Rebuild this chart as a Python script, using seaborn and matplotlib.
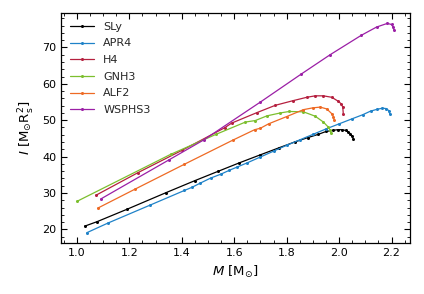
import matplotlib
matplotlib.use("Agg")
import matplotlib.pyplot as plt
from matplotlib.ticker import MultipleLocator
import seaborn as sns
import pandas as pd

sly_m = [1.03, 1.076, 1.19, 1.34, 1.45, 1.54, 1.62, 1.70, 1.77, 1.83, 1.88, 1.92, 1.95, 1.975, 1.995, 2.01, 2.025, 2.035, 2.043, 2.05, 2.054]
sly_i = [20.9, 22.1, 25.5, 30.1, 33.4, 36.0, 38.3, 40.5, 42.4, 44.0, 45.2, 46.1, 46.9, 47.2, 47.4, 47.4, 47.2, 46.8, 46.3, 45.6, 44.9]

apr4_m = [1.038, 1.117, 1.28, 1.41, 1.44, 1.47, 1.51, 1.55, 1.58, 1.61, 1.65, 1.70, 1.75, 1.80, 1.85, 1.90, 1.95, 2.00, 2.05, 2.09, 2.12, 2.145, 2.165, 2.18, 2.19, 2.193]
apr4_i = [19.1, 21.7, 26.7, 30.7, 31.6, 32.7, 34.1, 35.2, 36.2, 37.1, 38.3, 39.9, 41.5, 43.1, 44.6, 46.1, 47.6, 49.0, 50.4, 51.5, 52.5, 53.0, 53.3, 53.2, 52.6, 51.8]

h4_m = [1.073, 1.233, 1.40, 1.563, 1.59, 1.687, 1.757, 1.826, 1.877, 1.909, 1.94, 1.972, 1.997, 2.008, 2.014, 2.016]
h4_i = [29.4, 35.6, 41.7, 47.9, 49.2, 52.1, 54.1, 55.4, 56.3, 56.7, 56.7, 56.3, 55.2, 54.5, 53.6, 51.8]

gnh3_m = [1.0, 1.357, 1.53, 1.643, 1.68, 1.725, 1.776, 1.81, 1.864, 1.909, 1.94, 1.959, 1.966, 1.968]
gnh3_i = [27.7, 40.6, 46.1, 49.5, 49.9, 51.2, 52.0, 52.4, 52.3, 51.1, 49.5, 48.1, 47.3, 46.5]

alf2_m = [1.081, 1.22, 1.41, 1.594, 1.678, 1.70, 1.731, 1.80, 1.864, 1.90, 1.928, 1.953, 1.972, 1.978, 1.981]
alf2_i = [25.9, 31.0, 37.9, 44.5, 47.4, 47.8, 49.0, 51.0, 52.9, 53.4, 53.6, 53.1, 51.8, 51.0, 50.1]

wsphs3_m = [1.092, 1.351, 1.484, 1.70, 1.854, 1.966, 2.084, 2.143, 2.184, 2.20, 2.206, 2.21]
wsphs3_i = [28.4, 39.1, 44.6, 55.0, 62.6, 68.0, 73.3, 75.6, 76.6, 76.3, 75.6, 74.7]

names = ["SLy", "APR4", "H4", "GNH3", "ALF2", "WSPHS3"]
masses = [sly_m, apr4_m, h4_m, gnh3_m, alf2_m, wsphs3_m]
inertias = [sly_i, apr4_i, h4_i, gnh3_i, alf2_i, wsphs3_i]
colors = ["#000000", "#1f82c8", "#b5203f", "#7cbf2e", "#ee6a24", "#9b1fa6"]

rows = []
for n, ms, ii in zip(names, masses, inertias):
    for k, (m, i) in enumerate(zip(ms, ii)):
        rows.append({"EOS": n, "M": m, "I": i, "order": k})
df = pd.DataFrame(rows)

sns.set_style("ticks")
plt.rcParams["font.family"] = ["DejaVu Sans"]
plt.rcParams["mathtext.fontset"] = "dejavusans"

fig, ax = plt.subplots(figsize=(4.24, 2.94), dpi=100)
fig.subplots_adjust(left=0.144, right=0.967, top=0.956, bottom=0.173)

sns.lineplot(data=df, x="M", y="I", hue="EOS", hue_order=names,
             palette=dict(zip(names, colors)), sort=False, estimator=None,
             units="EOS", marker="o", markersize=2.2, markeredgewidth=0,
             linewidth=0.9, ax=ax)

ax.margins(0.05)
ax.xaxis.set_major_locator(MultipleLocator(0.2))
ax.xaxis.set_minor_locator(MultipleLocator(0.05))
ax.yaxis.set_major_locator(MultipleLocator(10))
ax.yaxis.set_minor_locator(MultipleLocator(2))
ax.tick_params(which="both", direction="in", top=True, right=True, labelsize=8,
               colors="black")
ax.tick_params(which="major", length=4, width=0.8)
ax.tick_params(which="minor", length=2, width=0.6)
for s in ax.spines.values():
    s.set_linewidth(0.9)
    s.set_color("black")

ax.set_xlabel(r"$M$ [M$_{\odot}$]", fontsize=9.5, color="black")
ax.set_ylabel(r"$I$ [M$_{\odot}$R$_{\rm s}^{2}$]", fontsize=9.5, color="black")

leg = ax.legend(loc="upper left", frameon=False, fontsize=8, labelspacing=0.6,
                handlelength=2.2, borderaxespad=0.4)

fig.savefig("out.png", dpi=100)
